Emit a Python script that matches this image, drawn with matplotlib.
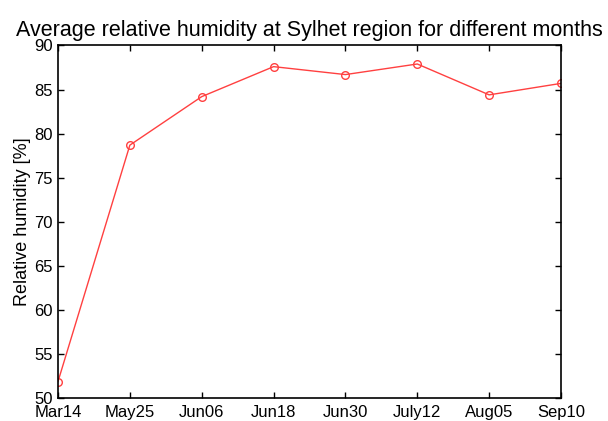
import matplotlib
matplotlib.use('Agg')
import matplotlib.pyplot as plt

dates = ['Mar14', 'May25', 'Jun06', 'Jun18', 'Jun30', 'July12', 'Aug05', 'Sep10']
humidity = [51.9, 78.7, 84.2, 87.6, 86.7, 87.9, 84.4, 85.7]

plt.rcParams['font.family'] = ['Liberation Sans', 'DejaVu Sans']

fig = plt.figure(figsize=(6.08, 4.21), dpi=100)
ax = fig.add_axes([0.0954, 0.054, 0.8273, 0.838])

x = range(len(dates))
ax.plot(x, humidity, '-o', color='#ff4040', lw=1.0, ms=5.5,
        markerfacecolor='none', markeredgewidth=1.0)

ax.set_xlim(0, len(dates) - 1)
ax.set_ylim(50, 90)
ax.set_xticks(list(x))
ax.set_xticklabels(dates)
ax.set_yticks(range(50, 91, 5))
ax.tick_params(axis='both', which='both', direction='in', top=True, right=True,
               labelsize=12, length=4, width=1)
ax.tick_params(axis='x', pad=4.5)
ax.tick_params(axis='y', pad=4)
for s in ax.spines.values():
    s.set_linewidth(1.2)
ax.set_ylabel('Relative humidity [%]', fontsize=13, labelpad=2)
ax.set_title('Average relative humidity at Sylhet region for different months',
             fontsize=15.5, pad=7)

fig.savefig('out.png', dpi=100)
